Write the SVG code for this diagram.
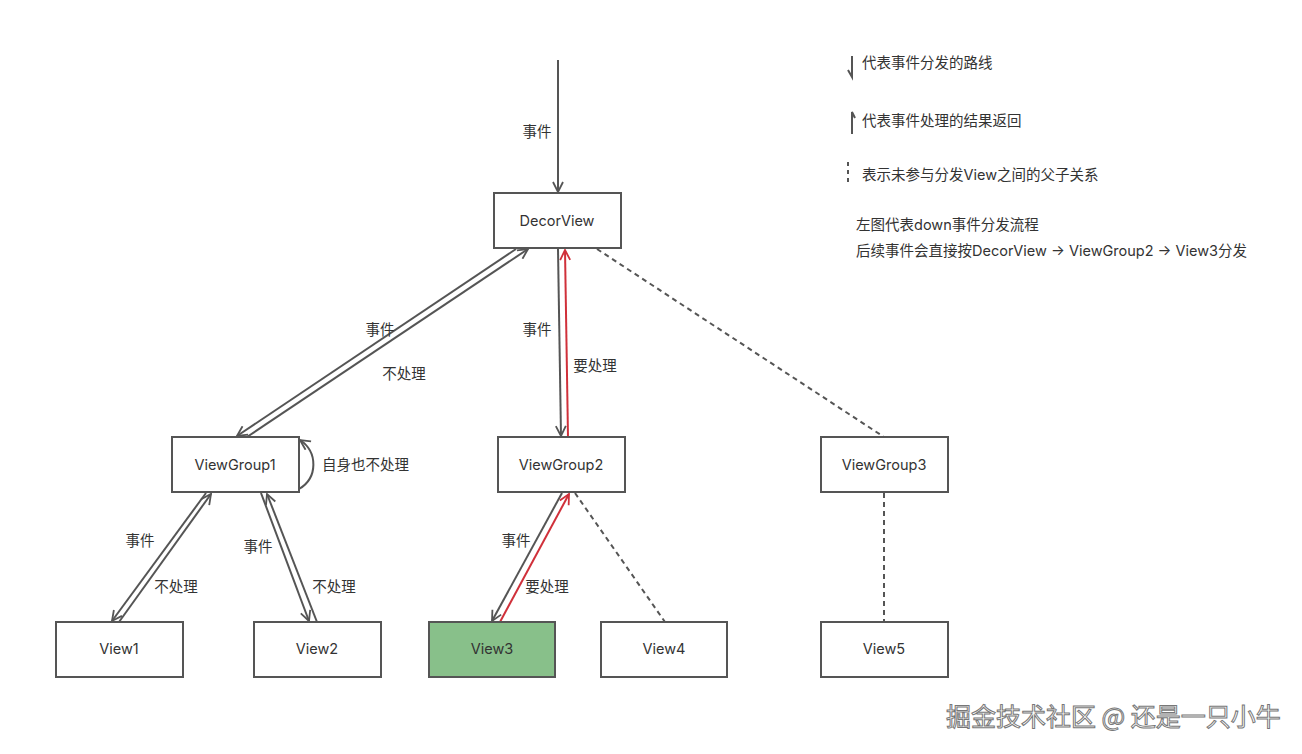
<svg xmlns="http://www.w3.org/2000/svg" width="1302" height="754" viewBox="0 0 1302 754">
<style>
.box{fill:#fff;stroke:#555;stroke-width:2}
.t{font-family:Inter,"Noto Sans CJK SC",sans-serif;font-size:14.5px;fill:#333}
.c{text-anchor:middle}
.ln{fill:none;stroke:#555;stroke-width:2}
.red{fill:none;stroke:#d0303a;stroke-width:2}
.dash{fill:none;stroke:#555;stroke-width:2;stroke-dasharray:5 4}
</style>
<defs>
<marker id="ag" viewBox="0 0 12 12" refX="11" refY="6" markerWidth="12" markerHeight="12" markerUnits="userSpaceOnUse" orient="auto">
<path d="M1,1 L11,6 L1,11" fill="none" stroke="#555" stroke-width="1.8"/>
</marker>
<marker id="ar" viewBox="0 0 12 12" refX="11" refY="6" markerWidth="12" markerHeight="12" markerUnits="userSpaceOnUse" orient="auto">
<path d="M1,1 L11,6 L1,11" fill="none" stroke="#d0303a" stroke-width="1.8"/>
</marker>
</defs>
<rect width="1302" height="754" fill="#fff"/>

<g id="connectors">
<line class="ln" x1="558" y1="60" x2="558" y2="192" marker-end="url(#ag)"/>
<line class="ln" x1="516" y1="249" x2="237" y2="436" marker-end="url(#ag)"/>
<line class="ln" x1="247" y1="437" x2="528" y2="249" marker-end="url(#ag)"/>
<line class="ln" x1="558" y1="249" x2="561" y2="436" marker-end="url(#ag)"/>
<line class="red" x1="568" y1="437" x2="565" y2="250" marker-end="url(#ar)"/>
<path class="ln" d="M299,489 C318,478 318,452 300,440" marker-end="url(#ag)"/>
<line class="ln" x1="206" y1="493" x2="112" y2="621" marker-end="url(#ag)"/>
<line class="ln" x1="119" y1="622" x2="211" y2="494" marker-end="url(#ag)"/>
<line class="ln" x1="261" y1="493" x2="309" y2="621" marker-end="url(#ag)"/>
<line class="ln" x1="317" y1="622" x2="267" y2="494" marker-end="url(#ag)"/>
<line class="ln" x1="562" y1="493" x2="492" y2="621" marker-end="url(#ag)"/>
<line class="red" x1="500" y1="622" x2="569" y2="494" marker-end="url(#ar)"/>
<line class="dash" x1="575" y1="493" x2="665" y2="622"/>
<line class="dash" x1="597" y1="249" x2="884" y2="437"/>
<line class="dash" x1="884" y1="493" x2="884" y2="622"/>
</g>

<g id="labels">
<text class="t c" x="537" y="137">事件</text>
<text class="t c" x="380" y="335">事件</text>
<text class="t c" x="404" y="379">不处理</text>
<text class="t c" x="537" y="335">事件</text>
<text class="t c" x="595" y="371">要处理</text>
<text class="t" x="322" y="470">自身也不处理</text>
<text class="t c" x="140" y="546">事件</text>
<text class="t c" x="176" y="592">不处理</text>
<text class="t c" x="258" y="552">事件</text>
<text class="t c" x="334" y="592">不处理</text>
<text class="t c" x="516" y="546">事件</text>
<text class="t c" x="547" y="592">要处理</text>
</g>

<g id="DecorView"><rect class="box" x="494" y="193" width="127" height="55"/><text class="t c" x="557" y="226">DecorView</text></g>
<g id="ViewGroup1"><rect class="box" x="172" y="437" width="127" height="55"/><text class="t c" x="235" y="470">ViewGroup1</text></g>
<g id="ViewGroup2"><rect class="box" x="498" y="437" width="127" height="55"/><text class="t c" x="561" y="470">ViewGroup2</text></g>
<g id="ViewGroup3"><rect class="box" x="821" y="437" width="127" height="55"/><text class="t c" x="884" y="470">ViewGroup3</text></g>
<g id="View1"><rect class="box" x="56" y="622" width="127" height="55"/><text class="t c" x="119" y="654">View1</text></g>
<g id="View2"><rect class="box" x="254" y="622" width="127" height="55"/><text class="t c" x="317" y="654">View2</text></g>
<g id="View3"><rect class="box" x="429" y="622" width="126" height="55" style="fill:#88c08a"/><text class="t c" x="492" y="654">View3</text></g>
<g id="View4"><rect class="box" x="601" y="622" width="126" height="55"/><text class="t c" x="664" y="654">View4</text></g>
<g id="View5"><rect class="box" x="821" y="622" width="127" height="55"/><text class="t c" x="884" y="654">View5</text></g>

<g id="legend">
<path d="M852,56 L852,77 L848,70" fill="none" stroke="#555" stroke-width="2"/>
<text class="t" x="862" y="68">代表事件分发的路线</text>
<path d="M852,134 L852,112 L855,118" fill="none" stroke="#555" stroke-width="2"/>
<text class="t" x="862" y="126">代表事件处理的结果返回</text>
<line x1="848" y1="162" x2="848" y2="183" stroke="#555" stroke-width="2" stroke-dasharray="4 4"/>
<text class="t" x="862" y="180">表示未参与分发View之间的父子关系</text>
<text class="t" x="856" y="230">左图代表down事件分发流程</text>
<text class="t" x="856" y="256">后续事件会直接按DecorView → ViewGroup2 → View3分发</text>
</g>

<text x="946" y="726" font-family="Noto Sans CJK SC, sans-serif" font-size="25" fill="#fff" stroke="#777" stroke-width="1">掘金技术社区 @ 还是一只小牛</text>
</svg>
